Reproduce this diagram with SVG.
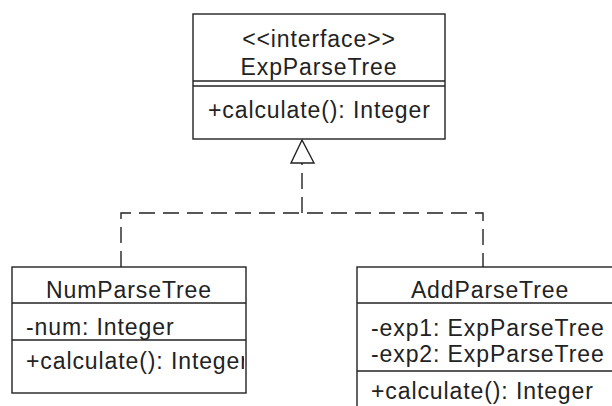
<svg xmlns="http://www.w3.org/2000/svg" width="612" height="406" viewBox="0 0 612 406">
<style>
.box{fill:#fff;stroke:#222;stroke-width:1.4}
.ln{stroke:#222;stroke-width:1.4;fill:none}
.dash{stroke:#222;stroke-width:1.4;fill:none;stroke-dasharray:16 8}
text{font-family:"Liberation Sans",Arial,sans-serif;font-size:23px;fill:#222;letter-spacing:0.9px}
.c{text-anchor:middle}
</style>
<defs>
<clipPath id="clipNum"><rect x="12" y="267" width="232" height="126"/></clipPath>
</defs>
<rect width="612" height="406" fill="#fff"/>
<g id="connectors">
<polyline class="dash" points="121,267 121,213 483,213 483,267"/>
<line class="dash" x1="302" y1="213" x2="302" y2="163"/>
<polygon class="ln" points="302,140 291,163 314,163" fill="#fff"/>
</g>
<g id="ExpParseTree">
<rect class="box" x="193" y="14" width="252" height="125"/>
<line class="ln" x1="193" y1="81" x2="445" y2="81"/>
<line class="ln" x1="193" y1="86" x2="445" y2="86"/>
<text class="c" x="319" y="47">&lt;&lt;interface&gt;&gt;</text>
<text class="c" x="319" y="75">ExpParseTree</text>
<text x="208" y="118">+calculate(): Integer</text>
</g>
<g id="NumParseTree">
<rect class="box" x="12" y="267" width="234" height="126"/>
<line class="ln" x1="12" y1="303" x2="246" y2="303"/>
<line class="ln" x1="12" y1="340" x2="246" y2="340"/>
<text class="c" x="129" y="298">NumParseTree</text>
<text x="26" y="335">-num: Integer</text>
<g clip-path="url(#clipNum)"><text x="26" y="369">+calculate(): Integer</text></g>
</g>
<g id="AddParseTree">
<rect class="box" x="357" y="267" width="266" height="150"/>
<line class="ln" x1="357" y1="303" x2="623" y2="303"/>
<line class="ln" x1="357" y1="371" x2="623" y2="371"/>
<text class="c" x="490" y="298">AddParseTree</text>
<text x="371" y="336">-exp1: ExpParseTree</text>
<text x="371" y="362">-exp2: ExpParseTree</text>
<text x="371" y="399">+calculate(): Integer</text>
</g>
</svg>
